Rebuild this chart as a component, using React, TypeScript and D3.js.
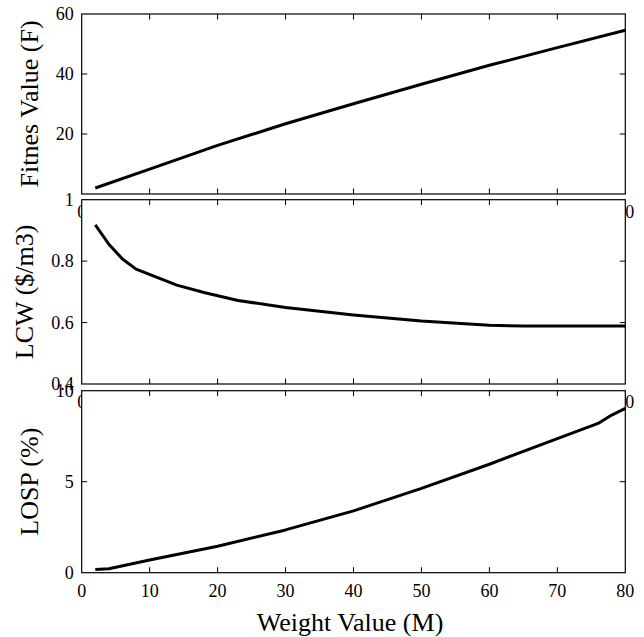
import React from "react";
import * as d3 from "d3";

// ---- data ----
const xTicks = [0, 10, 20, 30, 40, 50, 60, 70, 80];

const fitM = [2, 10, 20, 30, 40, 50, 60, 70, 80];
const fitValue = [2.0, 8.3, 16.2, 23.4, 30.1, 36.6, 42.9, 48.8, 54.6];
const fitTicks = [20, 40, 60];

const lcwM = [2, 4, 6, 8, 11, 14, 18, 23, 30, 40, 50, 57, 60, 65, 80];
const lcwValue = [0.918, 0.855, 0.807, 0.774, 0.748, 0.722, 0.698, 0.672, 0.649, 0.625, 0.605, 0.595, 0.591, 0.589, 0.589];
const lcwTicks = [0.4, 0.6, 0.8, 1];

const lospM = [2, 4, 10, 20, 30, 40, 50, 60, 70, 76, 78, 80];
const lospValue = [0.18, 0.22, 0.7, 1.45, 2.35, 3.4, 4.63, 5.96, 7.37, 8.2, 8.66, 9.03];
const lospTicks = [0, 5, 10];

const FONT = "Liberation Serif, DejaVu Serif, serif";
const X0 = 81.7;
const X1 = 625.3;
const TICK = 5.5;

type PanelProps = {
  top: number;
  bottom: number;
  domain: [number, number];
  yTicks: number[];
  xs: number[];
  ys: number[];
  label: string;
  labelX: number;
};

function Panel({ top, bottom, domain, yTicks, xs, ys, label, labelX }: PanelProps) {
  const x = d3.scaleLinear().domain([0, 80]).range([X0, X1]);
  const y = d3.scaleLinear().domain(domain).range([bottom, top]);
  const pts = xs.map((m, i) => [x(m), y(ys[i])] as [number, number]);
  const path = d3.line()(pts) || "";
  const inner = xTicks.filter((t) => t > 0 && t < 80);
  const innerY = yTicks.filter((t) => t > domain[0] && t < domain[1]);
  const tickStyle = { fontFamily: FONT, fontSize: "18px" };
  return (
    <g>
      <rect x={X0} y={top} width={X1 - X0} height={bottom - top} fill="#fff" />
      <path d={path} fill="none" stroke="#000" strokeWidth={3} strokeLinejoin="round" />
      {inner.map((t) => (
        <g key={"xt" + t}>
          <line x1={x(t)} x2={x(t)} y1={bottom} y2={bottom - TICK} stroke="#000" strokeWidth={1} />
          <line x1={x(t)} x2={x(t)} y1={top} y2={top + TICK} stroke="#000" strokeWidth={1} />
        </g>
      ))}
      {innerY.map((t) => (
        <g key={"yt" + t}>
          <line x1={X0} x2={X0 + TICK} y1={y(t)} y2={y(t)} stroke="#000" strokeWidth={1} />
          <line x1={X1} x2={X1 - TICK} y1={y(t)} y2={y(t)} stroke="#000" strokeWidth={1} />
        </g>
      ))}
      <rect x={X0} y={top} width={X1 - X0} height={bottom - top} fill="none" stroke="#000" strokeWidth={1.2} />
      {xTicks.map((t) => (
        <text key={"xl" + t} x={x(t)} y={bottom + 24} textAnchor="middle" style={tickStyle} fill="#000">
          {t}
        </text>
      ))}
      {yTicks.map((t) => (
        <text key={"yl" + t} x={X0 - 8} y={y(t)} dy="0.34em" textAnchor="end" style={tickStyle} fill="#000">
          {String(t)}
        </text>
      ))}
      <text
        transform={`translate(${labelX},${(top + bottom) / 2}) rotate(-90)`}
        textAnchor="middle"
        style={{ fontFamily: FONT, fontSize: "26px" }}
        fill="#000"
      >
        {label}
      </text>
    </g>
  );
}

export default function App() {
  return (
    <svg width={644} height={637} style={{ position: "absolute", left: 0, top: 0, background: "#fff" }}>
      <rect x={0} y={0} width={644} height={637} fill="#fff" />
      <Panel top={14} bottom={194} domain={[0, 60]} yTicks={fitTicks} xs={fitM} ys={fitValue} label="Fitnes Value (F)" labelX={38} />
      <Panel top={199.7} bottom={384} domain={[0.4, 1]} yTicks={lcwTicks} xs={lcwM} ys={lcwValue} label="LCW ($/m3)" labelX={33} />
      <Panel top={390.7} bottom={572.7} domain={[0, 10]} yTicks={lospTicks} xs={lospM} ys={lospValue} label="LOSP (%)" labelX={38} />
      <text x={350} y={631} textAnchor="middle" style={{ fontFamily: FONT, fontSize: "26px" }} fill="#000">
        Weight Value (M)
      </text>
    </svg>
  );
}
